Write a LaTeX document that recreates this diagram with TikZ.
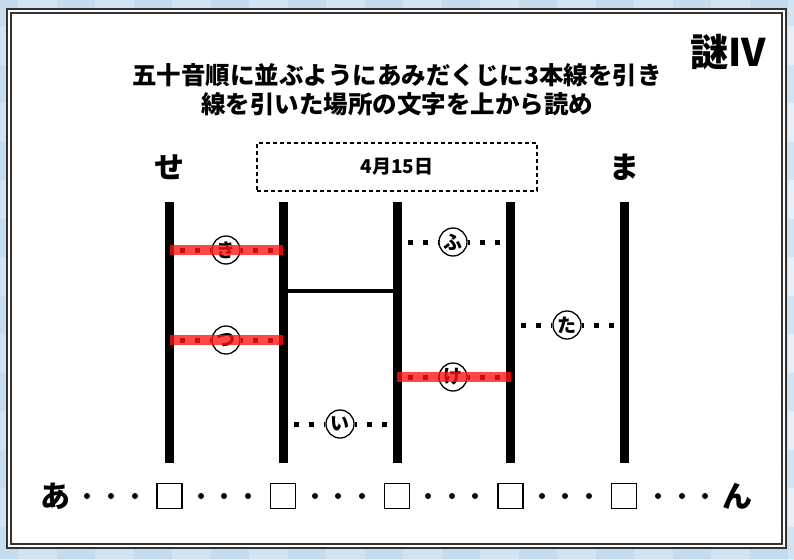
\documentclass[tikz,border=0pt]{standalone}
\usepackage{fontspec}
\setmainfont{Noto Sans CJK JP}
\definecolor{bgblue}{RGB}{230,240,248}
\definecolor{stripe}{RGB}{165,203,229}
\definecolor{markred}{RGB}{255,20,20}
\tikzset{
  bar/.style={line width=9pt},
  rungdots/.style={line width=5pt, dash pattern=on 5pt off 10pt, dash phase=4.5pt},
  letter/.style={circle, draw, line width=1.3pt, fill=white, minimum size=28pt, inner sep=0pt, font=\bfseries\fontsize{19}{19}\selectfont},
  redband/.style={line width=10pt, markred, opacity=.78},
  dotmark/.style={circle, fill, inner sep=0pt, minimum size=6pt},
  blank/.style={draw, line width=1.2pt, minimum size=25pt, inner sep=0pt},
  kana/.style={font=\bfseries\fontsize{30}{30}\selectfont},
  title/.style={font=\bfseries\fontsize{24.5}{24.5}\selectfont}
}
\begin{document}
\begin{tikzpicture}[x=1pt, y=-1pt]
\useasboundingbox (0,0) rectangle (794,559);
\begin{scope}
\clip (0,0) rectangle (794,559);
\fill[bgblue] (0,0) rectangle (794,559);
\foreach \k in {0,...,10} {
  \fill[stripe, opacity=.3] (\k*77-20,0) rectangle ++(38,559);
  \fill[stripe, opacity=.3] (0,\k*77-12) rectangle ++(794,38);
}
\end{scope}
\draw[line width=1.5pt, draw=black!80, fill=white] (7,9) rectangle (786,548);
\draw[line width=1.5pt, draw=black!80] (11,13) rectangle (782,544);

\node[title] (line1) at (397,75) {五十音順に並ぶようにあみだくじに3本線を引き};
\node[title] (line2) at (397,104) {線を引いた場所の文字を上から読め};
\node[font=\bfseries\fontsize{38}{38}\selectfont] (nazo) at (728,52) {謎IV};

\foreach \n/\x in {1/169.5,2/283,3/397,4/510.5,5/624} {
  \coordinate (top\n) at (\x,202);
  \coordinate (bot\n) at (\x,463);
  \draw[bar] (top\n) -- (bot\n);
}
\node[kana] (se) at (top1 |- 0,167) {せ};
\node[kana] (ma) at (top5 |- 0,167) {ま};
\node[draw, line width=1.2pt, dash pattern=on 4pt off 3pt, minimum width=280pt, minimum height=48pt,
  font=\bfseries\fontsize{19}{19}\selectfont] (date) at (397,167) {4月15日};

\draw[line width=4pt] (top2 |- 0,291) -- (top3 |- 0,291);

\node[letter] (ki) at (226,250) {き};
\draw[rungdots] (top1 |- ki) -- (ki);
\draw[rungdots] (top2 |- ki) -- (ki);
\draw[redband] (top1 |- ki) -- (top2 |- ki);

\node[letter] (tsu) at (226,340) {つ};
\draw[rungdots] (top1 |- tsu) -- (tsu);
\draw[rungdots] (top2 |- tsu) -- (tsu);
\draw[redband] (top1 |- tsu) -- (top2 |- tsu);

\node[letter] (fu) at (453,242) {ふ};
\draw[rungdots] (top3 |- fu) -- (fu);
\draw[rungdots] (top4 |- fu) -- (fu);

\node[letter] (ta) at (567,325) {た};
\draw[rungdots] (top4 |- ta) -- (ta);
\draw[rungdots] (top5 |- ta) -- (ta);

\node[letter] (ke) at (453,377) {け};
\draw[rungdots] (top3 |- ke) -- (ke);
\draw[rungdots] (top4 |- ke) -- (ke);
\draw[redband] (top3 |- ke) -- (top4 |- ke);

\node[letter] (i) at (340,424) {い};
\draw[rungdots] (top2 |- i) -- (i);
\draw[rungdots] (top3 |- i) -- (i);

\node[kana] (a) at (55,496) {あ};
\node[kana] (n) at (737,496) {ん};
\foreach \n in {1,...,5}
  \node[blank] (box\n) at (top\n |- 0,496) {};
\foreach \x [count=\i] in {87,111,135,201,224,248,315,338,362,428,452,475,542,565,589,658,682,705}
  \node[dotmark] (dot\i) at (\x,496) {};
\end{tikzpicture}
\end{document}
